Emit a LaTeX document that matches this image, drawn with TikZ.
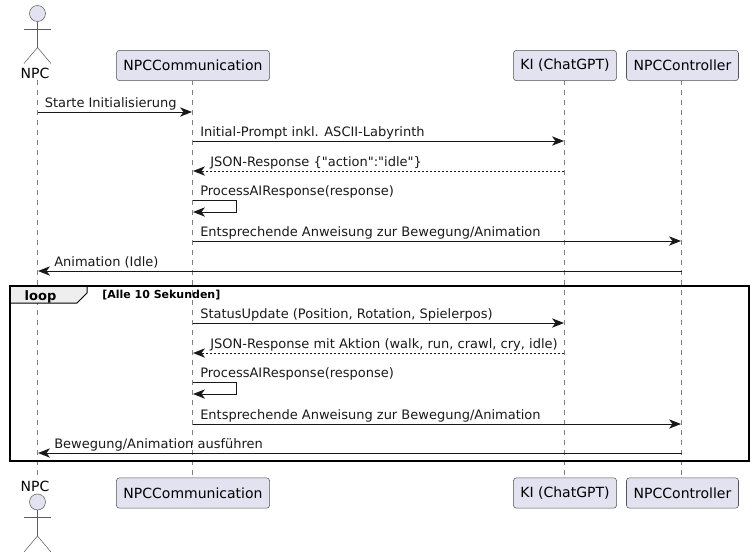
\documentclass[tikz,border=0pt]{standalone}
\usepackage{fontspec}
\setmainfont[Ligatures=TeXOff]{DejaVu Sans}
\usetikzlibrary{arrows.meta,shapes.misc}
\definecolor{partfill}{HTML}{E2E2F0}
\definecolor{partline}{HTML}{181818}
\definecolor{tabfill}{HTML}{EEEEEE}
\tikzset{
  part/.style={draw=partline!75,fill=partfill,rounded corners=2.2pt,line width=0.4pt,minimum height=22.7pt,inner xsep=0pt,font=\fontsize{10.5}{12}\selectfont},
  actorname/.style={inner sep=0pt,font=\fontsize{10.5}{12}\selectfont},
  actorline/.style={draw=partline!70,fill=partfill,line width=0.4pt},
  lifeline/.style={draw=partline!55,line width=0.4pt,dash pattern=on 3.75pt off 3.75pt},
  msg/.style={draw=partline,line width=0.75pt,-{Stealth[length=9pt,width=7pt,inset=2.6pt]}},
  reply/.style={msg,dash pattern=on 1.5pt off 1.5pt},
  msgtext/.style={anchor=base west,inner sep=0pt,font=\fontsize{9.75}{12}\selectfont,text=black!90},
  frameline/.style={draw=black,line width=1.2pt}
}
\begin{document}
\begin{tikzpicture}[x=0.75pt,y=-0.75pt]
  \useasboundingbox (0,0) rectangle (753,558);
  % participants
  \node[actorname] (npcT) at (35,73) {NPC};
  \node[actorname] (npcB) at (35,486) {NPC};
  \node[part,minimum width=114.8pt] (commT) at (193,65.5) {NPCCommunication};
  \node[part,minimum width=114.8pt] (commB) at (193,493) {NPCCommunication};
  \node[part,minimum width=77.3pt] (kiT) at (565,65.5) {KI (ChatGPT)};
  \node[part,minimum width=77.3pt] (kiB) at (565,493) {KI (ChatGPT)};
  \node[part,minimum width=84pt] (ctrlT) at (682.5,65.5) {NPCController};
  \node[part,minimum width=84pt] (ctrlB) at (682.5,493) {NPCController};
  % lifelines
  \foreach \a/\b in {npc/37.5,comm/192.5,ki/564,ctrl/681.5}{
    \coordinate (\a Top) at (\b,80);
    \coordinate (\a End) at (\b,477);
    \draw[lifeline] (\a Top) -- (\a End);
  }
  % actors
  \foreach \y in {13.5,502}{
    \begin{scope}[shift={(37.5,\y)}]
      \draw[actorline] (0,0) circle (6pt);
      \draw[actorline] (0,8) -- (0,34) (-13.5,15.5) -- (13.5,15.5);
      \draw[actorline,fill=none] (-13.5,50) -- (0,34) -- (13.5,50);
    \end{scope}
  }
  % loop frame
  \coordinate (fNW) at (10,286);
  \coordinate (fSE) at (749,461);
  \coordinate (tabA) at (10,303);
  \coordinate (tabB) at (77,303);
  \coordinate (tabC) at (87,293);
  \coordinate (tabD) at (87,286);
  \draw[line width=0.75pt,fill=tabfill] (fNW) -- (tabD) -- (tabC) -- (tabB) -- (tabA) -- cycle;
  \draw[frameline] (fNW) rectangle (fSE);
  \node[anchor=base,inner sep=0pt,font=\fontsize{9.75}{12}\selectfont\bfseries] (looptext) at (40.5,300) {loop};
  \node[anchor=base west,inner sep=0pt,font=\fontsize{8.25}{10}\selectfont\bfseries] (guard) at (102,298) {[Alle 10 Sekunden]};
  % messages
  \foreach \i/\a/\b/\y/\s/\lx/\t in {
    1/37.5/192/112/msg/44.5/{Starte Initialisierung},
    2/192.5/564/141/msg/200/{Initial-Prompt inkl. ASCII-Labyrinth},
    3/564/193/171/reply/210/{JSON-Response \{"action":"idle"\}},
    5/192.5/681/241/msg/200/{Entsprechende Anweisung zur Bewegung/Animation},
    6/681.5/38/271/msg/54/{Animation (Idle)},
    7/192.5/564/323/msg/200/{StatusUpdate (Position, Rotation, Spielerpos)},
    8/564/193/353/reply/210/{JSON-Response mit Aktion (walk, run, crawl, cry, idle)},
    10/192.5/681/424/msg/200/{Entsprechende Anweisung zur Bewegung/Animation},
    11/681.5/38/453/msg/54/{Bewegung/Animation ausführen}}{
    \coordinate (m\i a) at (\a,\y);
    \coordinate (m\i b) at (\b,\y);
    \draw[\s] (m\i a) -- (m\i b);
    \node[msgtext] (t\i) at (\lx,\y-4.5) {\t};
  }
  % self messages
  \foreach \i/\y in {4/200,9/382}{
    \coordinate (m\i a) at (192.5,\y);
    \coordinate (m\i b) at (236,\y);
    \coordinate (m\i c) at (236,\y+12);
    \coordinate (m\i d) at (193,\y+12);
    \draw[msg] (m\i a) -- (m\i b) -- (m\i c) -- (m\i d);
    \node[msgtext] (t\i) at (200,\y-4.5) {ProcessAIResponse(response)};
  }
\end{tikzpicture}
\end{document}
